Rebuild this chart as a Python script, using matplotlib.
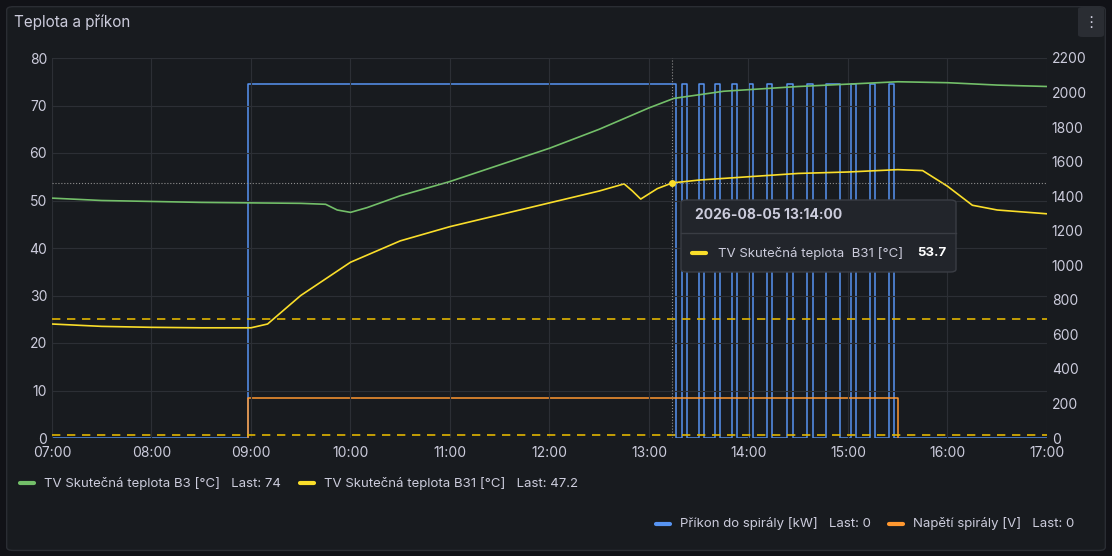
import matplotlib
matplotlib.use("Agg")
import matplotlib.pyplot as plt
from matplotlib.patches import FancyBboxPatch

plt.rcParams['font.family'] = ['Inter', 'DejaVu Sans']

def h(s):
    a, b = s.split(":"); return int(a) + int(b) / 60

green_t = ["07:00","07:30","08:00","08:30","09:00","09:30","09:45","09:52","10:00","10:10","10:30","11:00","11:30","12:00","12:30","13:00","13:15","13:45","14:30","15:00","15:30","16:00","16:30","17:00"]
green_v = [50.5,50.0,49.8,49.6,49.5,49.4,49.2,48.0,47.5,48.5,51.0,54.0,57.5,61.0,65.0,69.5,71.5,73.0,74.0,74.5,75.0,74.8,74.3,74.0]
yel_t = ["07:00","07:30","08:00","08:30","09:00","09:10","09:30","10:00","10:30","11:00","11:30","12:00","12:30","12:45","12:50","12:55","13:05","13:14","13:30","14:00","14:30","15:00","15:30","15:45","16:00","16:15","16:30","17:00"]
yel_v = [24.0,23.5,23.3,23.2,23.2,24.0,30.0,37.0,41.5,44.5,47.0,49.5,52.0,53.5,52.0,50.3,52.5,53.7,54.3,55.0,55.7,56.0,56.5,56.3,53.0,49.0,48.0,47.2]
power_on = [("08:58","13:16"),("13:20","13:23"),("13:30","13:33"),("13:40","13:43"),("13:50","13:53"),("14:00","14:03"),("14:11","14:14"),("14:23","14:27"),("14:35","14:39"),("14:47","14:55"),("15:02","15:05"),("15:13","15:16"),("15:25","15:28")]
power_level = 2050
volt_on = ("08:58", "15:30")
volt_level = 230
thresholds = [25, 0.7]
xt = ["07:00","08:00","09:00","10:00","11:00","12:00","13:00","14:00","15:00","16:00","17:00"]

BG = "#181b1f"; TXT = "#ccccdc"; GRID = "#2c2f35"
fig = plt.figure(figsize=(11.12, 5.56), dpi=100, facecolor="#111217")
fig.patches.append(FancyBboxPatch((0.006, 0.01), 0.988, 0.978, boxstyle="round,pad=0,rounding_size=0.006",
                                  transform=fig.transFigure, facecolor=BG, edgecolor="#2a2d33", lw=1, zorder=-10))
fig.text(0.013, 0.96, "Teplota a příkon", color=TXT, fontsize=11, va="center")
fig.patches.append(FancyBboxPatch((1078/1112, 1-37/556), 26/1112, 30/556, boxstyle="round,pad=0,rounding_size=0.004",
                                  transform=fig.transFigure, facecolor="#2a2d33", edgecolor="none", zorder=-5))
fig.text(1091/1112, 1-22/556, "⋮", color=TXT, fontsize=11, va="center", ha="center", family="DejaVu Sans")

ax = fig.add_axes([52/1112, 1-438/556, 995/1112, 380/556])
ax2 = ax.twinx()
for a in (ax, ax2):
    for s in a.spines.values(): s.set_visible(False)
    a.tick_params(colors=TXT, labelsize=10, length=0)
ax.set_xlim(7, 17); ax.set_ylim(0, 80); ax2.set_ylim(0, 2200)
ax.set_xticks([h(t) for t in xt]); ax.set_xticklabels(xt)
ax.set_yticks(range(0, 81, 10)); ax2.set_yticks(range(0, 2201, 200))
ax.grid(color=GRID, lw=0.8)
ax.tick_params(axis="x", pad=6)

pt, pv = [7.0], [0]
for a, b in power_on:
    pt += [h(a), h(a), h(b), h(b)]; pv += [0, power_level, power_level, 0]
pt.append(17); pv.append(0)
ax2.plot(pt, pv, color="#5794f2", lw=1.1)
vt = [h(volt_on[0]), h(volt_on[0]), h(volt_on[1]), h(volt_on[1])]
ax2.plot(vt, [0, volt_level, volt_level, 0], color="#ff9830", lw=1.1)
for th in thresholds:
    ax.axhline(th, color="#e0b400", lw=1.2, ls=(0, (5, 4)))
ax.plot([h(t) for t in green_t], green_v, color="#73bf69", lw=1.2)
ax.plot([h(t) for t in yel_t], yel_v, color="#fade2a", lw=1.2)
ax.set_zorder(ax2.get_zorder() + 1); ax.patch.set_visible(False); ax2.patch.set_visible(False)

cx, cy = h("13:14"), 53.7
ax.axvline(cx, color="#8e8e8e", lw=0.8, ls=":")
ax.axhline(cy, color="#8e8e8e", lw=0.8, ls=":")
ax.plot([cx], [cy], "o", color="#fade2a", ms=4)
fig.patches.append(FancyBboxPatch((681/1112, 1-272/556), 275/1112, 72/556, boxstyle="round,pad=0,rounding_size=0.005",
                     transform=fig.transFigure, facecolor="#22252b", edgecolor="#3a3d44", lw=1, zorder=10))
fig.text(695/1112, 1-215/556, "2026-08-05 13:14:00", color=TXT, fontsize=10, weight="bold", va="center", zorder=11)
fig.lines.append(plt.Line2D([681/1112, 956/1112], [1-233/556]*2, transform=fig.transFigure, color="#3a3d44", lw=1, zorder=11))
fig.lines.append(plt.Line2D([692/1112, 706/1112], [1-253/556]*2, transform=fig.transFigure, color="#fade2a", lw=3, zorder=11, solid_capstyle="round"))
fig.text(718/1112, 1-253/556, "TV Skutečná teplota  B31 [°C]", color=TXT, fontsize=9.5, va="center", zorder=11)
fig.text(946/1112, 1-253/556, "53.7", color="#ffffff", fontsize=9.5, weight="bold", va="center", ha="right", zorder=11)

def leg(x, y, col, label):
    fig.lines.append(plt.Line2D([x/1112, (x+14)/1112], [1-y/556]*2, transform=fig.transFigure, color=col, lw=3, solid_capstyle="round"))
    fig.text((x+24)/1112, 1-y/556, label, color=TXT, fontsize=9.5, va="center")
leg(20, 483, "#73bf69", "TV Skutečná teplota B3 [°C]   Last: 74")
leg(300, 483, "#fade2a", "TV Skutečná teplota B31 [°C]   Last: 47.2")
leg(656, 524, "#5794f2", "Příkon do spirály [kW]   Last: 0")
leg(889, 524, "#ff9830", "Napětí spirály [V]   Last: 0")

fig.savefig("out.png", dpi=100, facecolor=fig.get_facecolor())
